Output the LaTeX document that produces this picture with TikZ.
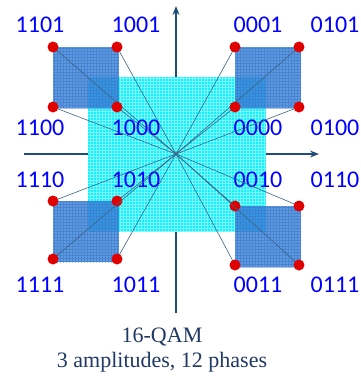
\documentclass[tikz,border=0pt]{standalone}
\usepackage{fontspec}
\setmainfont{Liberation Serif}
\newfontfamily\bitfont{Carlito}
\usetikzlibrary{arrows.meta}

\definecolor{axisblue}{HTML}{1F4E79}
\definecolor{rayblue}{HTML}{3A6486}
\definecolor{captionblue}{HTML}{1F3864}
\definecolor{boxblue}{HTML}{3A82DC}
\definecolor{boxgrid}{HTML}{2A66B8}
\definecolor{cyanfill}{HTML}{10F2FF}
\definecolor{cyangrid}{HTML}{80F8FF}
\definecolor{dotred}{HTML}{E00000}

\tikzset{
  axis/.style={draw=axisblue, line width=1.4pt, -{Stealth[length=9pt,width=7pt]}},
  ray/.style={draw=rayblue, line width=0.6pt},
  dot/.style={circle, fill=dotred, minimum size=11pt, inner sep=0pt},
  bits/.style={text=blue, font=\bitfont\fontsize{24}{24}\selectfont, inner sep=0pt},
  caption/.style={text=captionblue, font=\fontsize{22}{25}\selectfont, anchor=base, inner sep=0pt},
  quadbox/.style={fill=boxblue, fill opacity=0.82},
}

\begin{document}
\begin{tikzpicture}[x=1pt,y=-1pt]
  \useasboundingbox (0,0) rectangle (361,376);

  % axes
  \coordinate (o) at (176,154);
  \draw[axis] (176,313) -- (176,6);
  \draw[axis] (24,154) -- (319,154);

  % cyan square round the origin
  \fill[cyanfill] (88,77) rectangle (266,231);
  \draw[cyangrid, line width=0.4pt, step=3pt] (88,77) grid (266,231);

  % the four blue squares
  \foreach \x/\y in {53/47, 235/47, 53/201, 235/206} {
    \fill[quadbox] (\x,\y) rectangle ++(66,61);
    \begin{scope}
      \clip (\x,\y) rectangle ++(66,61);
      \draw[boxgrid, line width=0.35pt, opacity=0.4, step=3pt] (\x-3,\y-3) grid ++(72,67);
    \end{scope}
  }

  % points, rays and labels
  \foreach \n/\x/\y/\lx/\ly in {
      1101/53/47/40/25,   1001/117/47/136/25,  0001/235/47/258/25,  0101/299/47/335/25,
      1100/53/107/40/128, 1000/117/107/136/128, 0000/235/107/258/128, 0100/299/107/335/128,
      1110/53/201/40/180, 1010/117/201/136/180, 0010/235/206/258/180, 0110/299/206/335/180,
      1111/53/259/40/285, 1011/117/259/136/285, 0011/235/265/258/285, 0111/299/265/335/285} {
    \coordinate (c\n) at (\x,\y);
    \draw[ray] (o) -- (c\n);
    \node[dot] (p\n) at (c\n) {};
    \node[bits] (l\n) at (\lx,\ly) {\n};
  }

  \node[caption] (title) at (162,342) {16-QAM};
  \node[caption] (subtitle) at (162,367) {3 amplitudes, 12 phases};
\end{tikzpicture}
\end{document}
